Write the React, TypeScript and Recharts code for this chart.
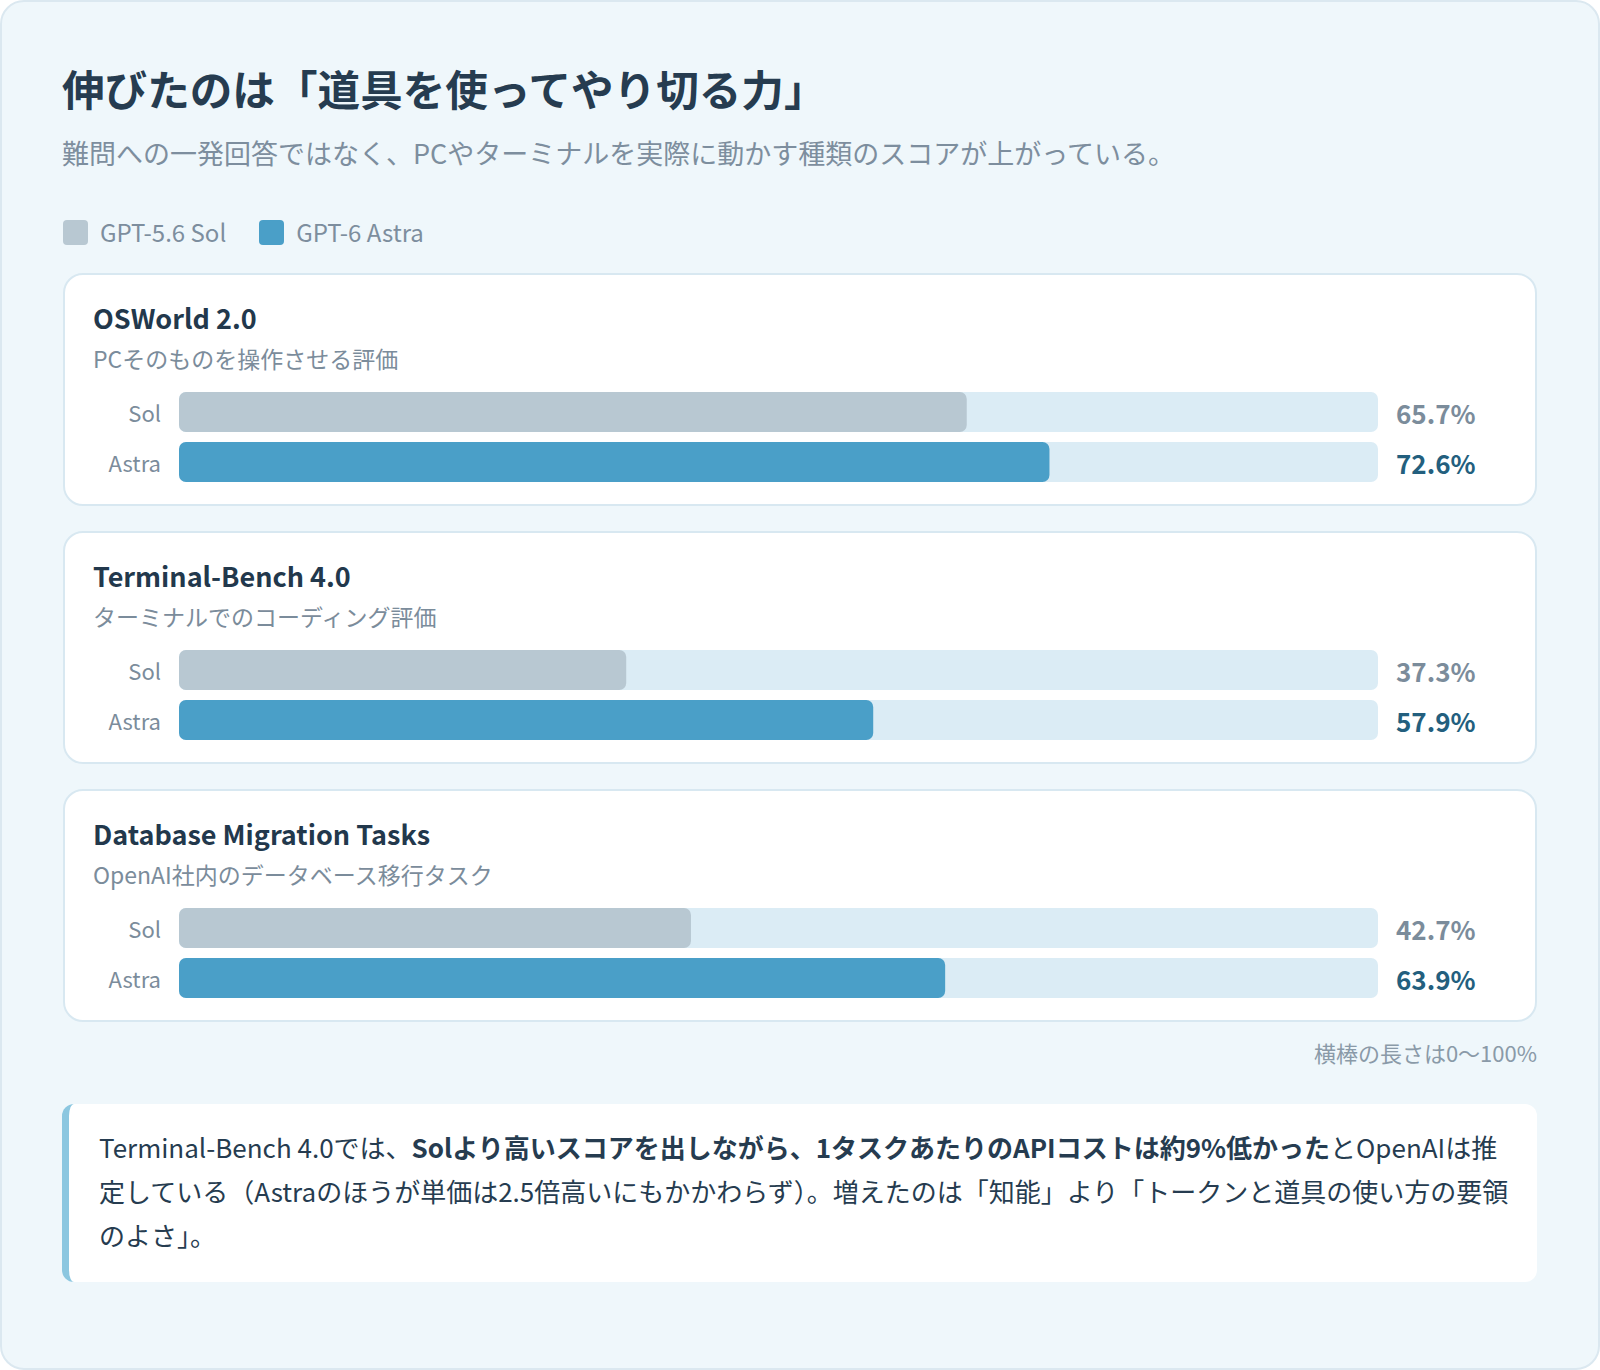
import React from 'react';
import { BarChart, Bar, XAxis, YAxis, Cell } from 'recharts';

const benchmarks = ['OSWorld 2.0', 'Terminal-Bench 4.0', 'Database Migration Tasks'];
const descriptions = ['PCそのものを操作させる評価', 'ターミナルでのコーディング評価', 'OpenAI社内のデータベース移行タスク'];
const solScores = [65.7, 37.3, 42.7];
const astraScores = [72.6, 57.9, 63.9];
const rowLabels = ['Sol', 'Astra'];
const legendNames = ['GPT-5.6 Sol', 'GPT-6 Astra'];
const barColors = ['#b8c8d2', '#4a9fc8'];
const valueColors = ['#7b8c9b', '#235f7e'];
const xDomain = [0, 100];

const FONT = "'Noto Sans CJK JP', 'Noto Sans', sans-serif";
const TRACK = '#dbecf5';

const Track = (props: any) => {
  const { x, y, width, height, index, payload } = props;
  const v = payload && payload.value !== undefined ? payload.value : null;
  return (
    <g>
      <rect x={x} y={y} width={width} height={height} rx={7} ry={7} fill={TRACK} />
      <text
        x={x + width + 18}
        y={y + height / 2 + 3}
        dy="0.36em"
        fontFamily={FONT}
        fontSize={26}
        fontWeight={700}
        fill={valueColors[index] || valueColors[0]}
      >
        {v !== null ? `${v.toFixed(1)}%` : ''}
      </text>
    </g>
  );
};

const AxisTick = (props: any) => {
  const { x, y, payload } = props;
  return (
    <text x={x} y={y + 2} dy="0.36em" textAnchor="end" fontFamily={FONT} fontSize={22} fill="#7b8c9b">
      {payload.value}
    </text>
  );
};

function Panel({ i, top }: { i: number; top: number }) {
  const data = rowLabels.map((name, k) => ({ name, value: k === 0 ? solScores[i] : astraScores[i] }));
  return (
    <div
      style={{
        position: 'absolute',
        left: 63,
        top,
        width: 1474,
        height: 233,
        boxSizing: 'border-box',
        border: '2px solid #d8e8f1',
        borderRadius: 20,
        background: '#ffffff',
      }}
    >
      <div
        style={{
          position: 'absolute',
          left: 28,
          top: 24.7,
          lineHeight: '36px',
          fontSize: 27,
          fontWeight: 700,
          color: '#22384c',
          whiteSpace: 'nowrap',
        }}
      >
        {benchmarks[i]}
      </div>
      <div
        style={{
          position: 'absolute',
          left: 28,
          top: 66.5,
          lineHeight: '32px',
          fontSize: 23,
          color: '#7b8c9b',
          whiteSpace: 'nowrap',
        }}
      >
        {descriptions[i]}
      </div>
      <div style={{ position: 'absolute', left: 28, top: 112 }}>
        <BarChart
          width={1414}
          height={100}
          data={data}
          layout="vertical"
          margin={{ top: 0, right: 129, bottom: 0, left: 0 }}
          barCategoryGap={5}
        >
          <XAxis type="number" domain={xDomain} hide />
          <YAxis
            type="category"
            dataKey="name"
            width={86}
            axisLine={false}
            tickLine={false}
            tickSize={0}
            tickMargin={18}
            tick={<AxisTick />}
          />
          <Bar dataKey="value" barSize={40} radius={7} background={<Track />} isAnimationActive={false}>
            {data.map((d, k) => (
              <Cell key={d.name} fill={barColors[k]} />
            ))}
          </Bar>
        </BarChart>
      </div>
    </div>
  );
}

export default function App() {
  return (
    <div
      style={{
        position: 'absolute',
        left: 0,
        top: 0,
        width: 1600,
        height: 1370,
        fontFamily: FONT,
        background: '#ffffff',
      }}
    >
      <div
        style={{
          position: 'absolute',
          inset: 0,
          boxSizing: 'border-box',
          border: '2px solid #dbe8f0',
          borderRadius: 24,
          background: '#eff7fb',
        }}
      />
      <div
        style={{
          position: 'absolute',
          left: 62,
          top: 61,
          lineHeight: '54px',
          fontSize: 42.6,
          fontWeight: 700,
          color: '#263c50',
          whiteSpace: 'nowrap',
        }}
      >
        伸びたのは「道具を使ってやり切る力」
      </div>
      <div
        style={{
          position: 'absolute',
          left: 62,
          top: 133,
          lineHeight: '40px',
          fontSize: 27,
          color: '#7d8e9e',
          whiteSpace: 'nowrap',
        }}
      >
        難問への一発回答ではなく、PCやターミナルを実際に動かす種類のスコアが上がっている。
      </div>
      <div
        style={{
          position: 'absolute',
          left: 63,
          top: 217,
          height: 30,
          display: 'flex',
          alignItems: 'center',
          whiteSpace: 'nowrap',
        }}
      >
        {legendNames.map((n, k) => (
          <div key={n} style={{ display: 'flex', alignItems: 'center', marginRight: k === 0 ? 33 : 0 }}>
            <div style={{ width: 25, height: 25, borderRadius: 4, background: barColors[k], marginRight: 12 }} />
            <span style={{ fontSize: 24, color: '#7d8e9e', lineHeight: '30px' }}>{n}</span>
          </div>
        ))}
      </div>
      {benchmarks.map((b, i) => (
        <Panel key={b} i={i} top={273 + i * 258} />
      ))}
      <div
        style={{
          position: 'absolute',
          right: 63,
          top: 1037,
          lineHeight: '30px',
          fontSize: 22,
          color: '#8a9aa8',
          whiteSpace: 'nowrap',
        }}
      >
        横棒の長さは0〜100%
      </div>
      <div
        style={{
          position: 'absolute',
          left: 62,
          top: 1104,
          width: 1475,
          height: 178,
          boxSizing: 'border-box',
          background: '#ffffff',
          borderLeft: '7px solid #8cc7e0',
          borderRadius: 12,
          padding: '21px 20px 0 30px',
          fontSize: 26,
          lineHeight: '44px',
          color: '#263c50',
          whiteSpace: 'nowrap',
        }}
      >
        <div>
          Terminal-Bench 4.0では、<b>Solより高いスコアを出しながら、1タスクあたりのAPIコストは約9%低かった</b>とOpenAIは推
        </div>
        <div>定している（Astraのほうが単価は2.5倍高いにもかかわらず）。増えたのは「知能」より「トークンと道具の使い方の要領</div>
        <div>のよさ」。</div>
      </div>
    </div>
  );
}
